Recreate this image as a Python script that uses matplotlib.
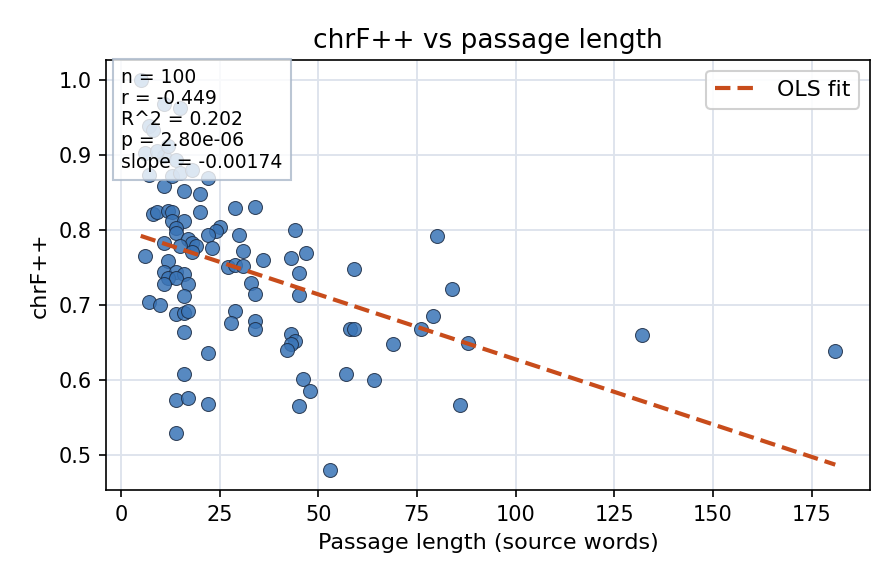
import numpy as np
import matplotlib
matplotlib.use("Agg")
import matplotlib.pyplot as plt

# Passage length (source words) and chrF++ scores
length = [80, 84, 79, 76, 88, 86, 132, 181, 69,
          20, 20, 29, 34, 25, 24, 22, 30, 23, 31, 44, 47, 43, 36, 27, 29, 31,
          45, 33, 34, 45, 59, 29, 28, 34, 34, 58, 59, 43, 44, 43, 42, 22,
          46, 48, 45, 57, 64, 22, 53, 16, 16, 14, 17, 14,
          11, 16, 8, 9, 12, 13, 13, 16, 14, 14, 11, 17, 18, 19, 15, 18,
          6, 12, 11, 14, 16, 12, 14, 11, 17, 16, 7, 10, 14, 16, 17,
          5, 11, 15, 7, 8, 6, 11, 14, 7, 13, 15, 22, 9, 18, 12]
chrf = [0.792, 0.721, 0.685, 0.667, 0.649, 0.566, 0.660, 0.638, 0.648,
        0.847, 0.824, 0.829, 0.830, 0.803, 0.798, 0.793, 0.793, 0.775, 0.772,
        0.800, 0.769, 0.762, 0.760, 0.750, 0.753, 0.752,
        0.742, 0.729, 0.714, 0.713, 0.748, 0.692, 0.676, 0.678, 0.667,
        0.667, 0.667, 0.661, 0.651, 0.647, 0.640, 0.636,
        0.601, 0.585, 0.565, 0.607, 0.600, 0.568, 0.479, 0.664, 0.608,
        0.573, 0.575, 0.529,
        0.858, 0.851, 0.821, 0.823, 0.825, 0.823, 0.811, 0.812, 0.802,
        0.796, 0.782, 0.787, 0.782, 0.778, 0.778, 0.770,
        0.765, 0.758, 0.744, 0.743, 0.741, 0.736, 0.735, 0.728, 0.727,
        0.712, 0.704, 0.699, 0.688, 0.689, 0.692,
        1.000, 0.967, 0.962, 0.938, 0.933, 0.902, 0.898, 0.893, 0.873,
        0.871, 0.876, 0.869, 0.905, 0.880, 0.912]

stats_lines = ["n = 100", "r = -0.449", "R^2 = 0.202", "p = 2.80e-06",
               "slope = -0.00174"]

x = np.array(length, dtype=float)
y = np.array(chrf)
slope, intercept = np.polyfit(x, y, 1)

fig = plt.figure(figsize=(896 / 150, 584 / 150), dpi=150)
ax = fig.add_axes([106 / 896, 1 - 490 / 584, (870 - 106) / 896, (490 - 60) / 584])

ax.grid(True, color="#dde3ec", linewidth=0.9, zorder=0)
ax.set_axisbelow(True)
ax.scatter(x, y, s=45, color="#3a74b6", alpha=0.85, edgecolor="#1c2c44",
           linewidth=0.5, zorder=3)
xs = np.array([x.min(), x.max()])
ax.plot(xs, intercept + slope * xs, linestyle="--", color="#c84c1b",
        linewidth=2.0, dashes=(3.7, 1.7), label="OLS fit", zorder=4)

ax.set_title("chrF++ vs passage length", fontsize=12.7)
ax.set_xlabel("Passage length (source words)", fontsize=10.7)
ax.set_ylabel("chrF++", fontsize=10.7)
ax.tick_params(labelsize=10)
ax.set_xticks([0, 25, 50, 75, 100, 125, 150, 175])
ax.set_yticks([0.5, 0.6, 0.7, 0.8, 0.9, 1.0])
ax.set_yticklabels(["0.5", "0.6", "0.7", "0.8", "0.9", "1.0"])

ax.text(0.02, 0.982, "\n".join(stats_lines), transform=ax.transAxes,
        fontsize=9, va="top", ha="left", zorder=5, linespacing=1.15,
        bbox=dict(boxstyle="square,pad=0.45", facecolor="white", alpha=0.8,
                  edgecolor="#aab8ca"))
ax.legend(loc="upper right", fontsize=10.6, frameon=True, fancybox=True,
          edgecolor="#cccccc", framealpha=0.9)

fig.savefig("out.png", dpi=150)
